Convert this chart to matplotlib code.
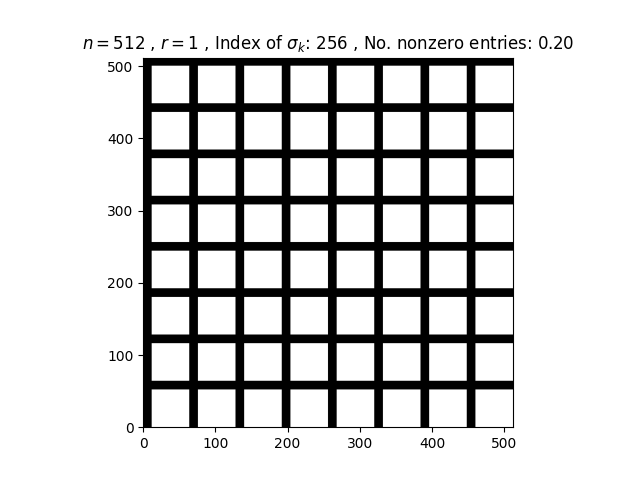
import numpy as np
import matplotlib
matplotlib.use('Agg')
import matplotlib.pyplot as plt

n = 512
band_width = 12
# left edges of the black vertical bands (columns)
col_band_starts = [0, 64, 128, 192, 256, 320, 384, 448]
# lower edges of the black horizontal bands (rows, counted from bottom)
row_band_starts = [52, 116, 180, 244, 308, 372, 436, 500]

img = np.ones((n, n))
for c in col_band_starts:
    img[:, c:c + band_width] = 0
for r in row_band_starts:
    img[r:r + band_width, :] = 0

fig, ax = plt.subplots(figsize=(6.4, 4.8), dpi=100)
ax.imshow(img, cmap='gray', origin='lower', extent=(0, n, 0, n),
          interpolation='antialiased')
ax.set_title(r'$n=512$ , $r=1$ , Index of $\sigma_k$: 256 , '
             r'No. nonzero entries: 0.20')
fig.savefig('out.png')
